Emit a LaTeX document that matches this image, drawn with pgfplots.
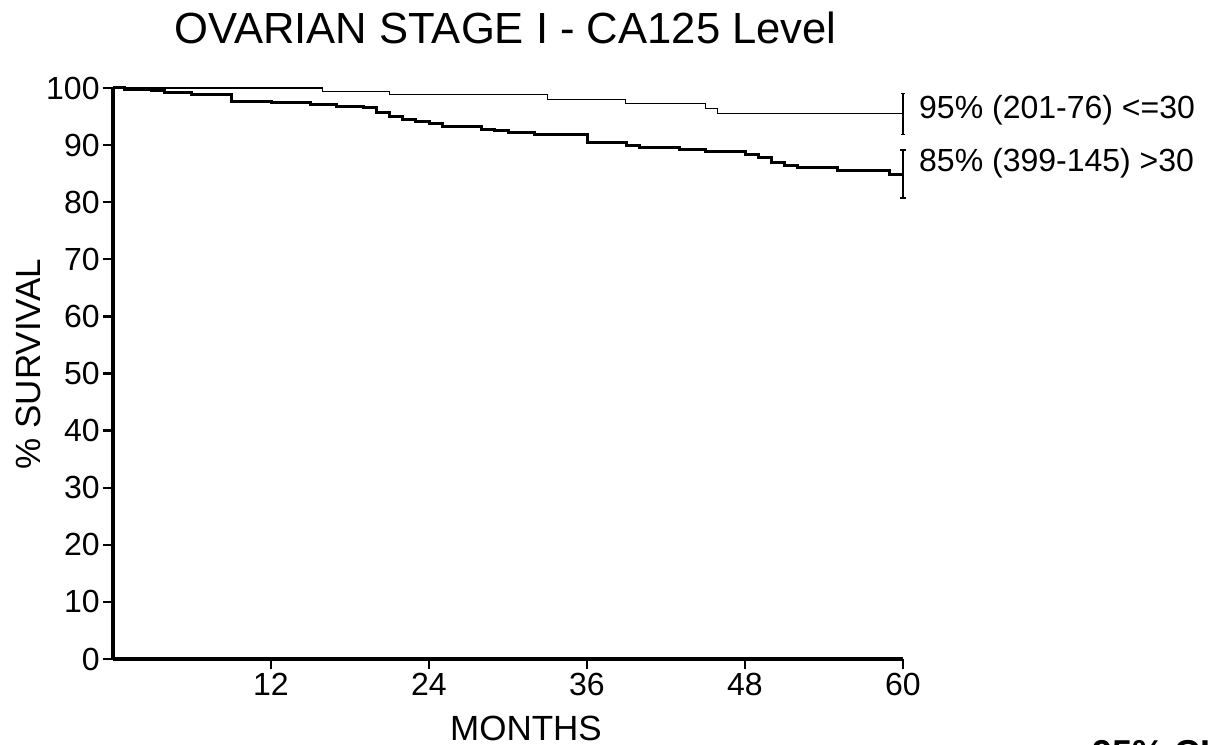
\documentclass[border=0pt]{standalone}
\usepackage{pgfplots}
\pgfplotsset{compat=1.18}
\usepackage{fontspec}
\setmainfont{Liberation Sans}
\begin{document}
\begin{tikzpicture}
\useasboundingbox (-56.5pt,-42.5pt) rectangle (558pt,329.5pt);
\begin{axis}[
  scale only axis,
  width=395pt, height=285.5pt,
  xmin=0, xmax=60, ymin=0, ymax=100,
  clip=false,
  axis lines*=left,
  axis line style={line width=1.6pt, -},
  xtick={12,24,36,48,60},
  ytick={0,10,...,100},
  tick align=outside,
  major tick length=5pt,
  tick style={line width=1.2pt, black},
  /pgf/number format/assume math mode=true,
  ticklabel style={font=\fontsize{16}{16}\selectfont},
  yticklabel style={inner sep=0pt, xshift=-1.5pt},
  xticklabel style={inner sep=0pt, yshift=-2pt},
]
\addplot[const plot, black, line width=0.6pt] coordinates {
(0,100) (15.9,99.4) (21,98.9) (33,98.0) (38.9,97.3) (45,96.4) (45.9,95.5) (60,95.5)};
\addplot[const plot, black, line width=1.5pt] coordinates {
(0,100) (0.9,99.8) (2.9,99.5) (3.9,99.2) (6,98.8) (9,97.6) (12,97.4) (15,97.1)
(17,96.8) (19,96.5) (20,95.7) (21,95.0) (22,94.4) (23,94.1) (24,93.8) (25,93.2)
(28,92.8) (29,92.5) (30,92.2) (32,91.8) (36,90.5) (39,90.0) (40,89.6) (43,89.2)
(45,88.8) (48,88.4) (49,87.9) (50,87.0) (51,86.5) (52,86.0) (55,85.5) (59,84.8) (60,84.8)};
% confidence intervals: <=30
\addplot[black, line width=0.6pt] coordinates {(60,91.9) (60,99.1)};
\addplot[black, line width=0.6pt] coordinates {(59.85,99.1) (60.15,99.1)};
\addplot[black, line width=0.6pt] coordinates {(59.85,91.9) (60.15,91.9)};
% confidence intervals: >30
\addplot[black, line width=1.2pt] coordinates {(60,80.7) (60,89.1)};
\addplot[black, line width=1.2pt] coordinates {(59.8,89.1) (60.2,89.1)};
\addplot[black, line width=1.2pt] coordinates {(59.8,80.7) (60.2,80.7)};
\node[anchor=base west, inner sep=0pt, font=\fontsize{16}{16}\selectfont] at (axis cs:61.2,94.6) {95\% (201-76) <=30};
\node[anchor=base west, inner sep=0pt, font=\fontsize{16}{16}\selectfont] at (axis cs:61.2,85.3) {85\% (399-145) >30};
\end{axis}
\node[anchor=base, inner sep=0pt, font=\fontsize{21.8}{22}\selectfont] at (196.25pt,307.5pt) {OVARIAN STAGE I - CA125 Level};
\node[anchor=center, inner sep=0pt, rotate=90, font=\fontsize{17.5}{18}\selectfont] at (-42.5pt,147.5pt) {\% SURVIVAL};
\node[anchor=base, inner sep=0pt, font=\fontsize{17.5}{18}\selectfont] at (206.5pt,-40.5pt) {MONTHS};
\node[anchor=north west, inner sep=0pt, font=\bfseries\fontsize{18}{18}\selectfont] at (489.5pt,-40.5pt) {95\% CI};
\end{tikzpicture}
\end{document}
